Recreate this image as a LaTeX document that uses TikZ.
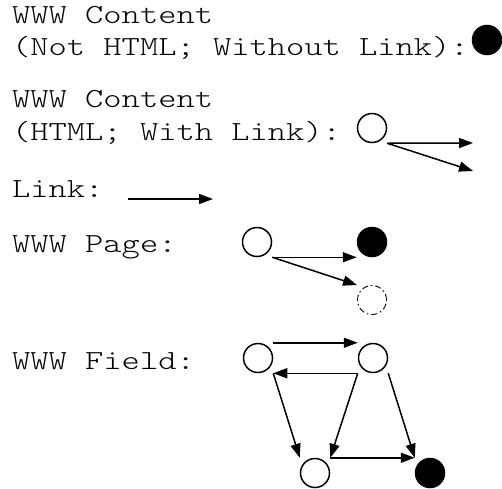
\documentclass[tikz,border=0pt]{standalone}
\usepackage{fontspec}
\newfontfamily\courfont[FakeStretch=1.26]{Latin Modern Mono Light}
\usetikzlibrary{arrows.meta}
\begin{document}
\begin{tikzpicture}[x=1pt,y=1pt,
  lbl/.style={anchor=base west,inner sep=0pt,font=\courfont\fontsize{27.6}{33}\selectfont},
  opencirc/.style={circle,draw,line width=1.5pt,minimum size=29pt,inner sep=0pt},
  fullcirc/.style={circle,draw,fill=black,line width=1.5pt,minimum size=29pt,inner sep=0pt},
  dashcirc/.style={circle,draw,line width=0.9pt,dash pattern=on 6pt off 3pt on 1.5pt off 3pt,minimum size=29pt,inner sep=0pt},
  link/.style={line width=1.5pt,-{Triangle[length=14pt,width=10pt]}}]
\useasboundingbox (0,0) rectangle (502,-488);
% labels
\node[lbl] (t1) at (12,-23) {WWW Content};
\node[lbl] (t2) at (12,-55) {(Not HTML; Without Link):};
\node[lbl] (t3) at (12,-107) {WWW Content};
\node[lbl] (t4) at (12,-140) {(HTML; With Link):};
\node[lbl] (t5) at (12,-197) {Link:};
\node[lbl] (t6) at (12,-252) {WWW Page:};
\node[lbl] (t7) at (12,-369) {WWW Field:};
% content without link
\node[fullcirc] (nc) at (487,-40) {};
% content with link
\node[opencirc] (wc) at (372,-128) {};
\coordinate (wc1) at (473,-143);
\coordinate (wc2) at (473,-171);
\draw[link] (wc.south -| wc.east) -- (wc1);
\draw[link] (wc.south -| wc.east) -- (wc2);
% link
\coordinate (la) at (128,-199);
\coordinate (lb) at (213,-199);
\draw[link] (la) -- (lb);
% page
\node[opencirc] (p0) at (257,-242) {};
\node[fullcirc] (p1) at (372,-242) {};
\node[dashcirc] (p2) at (372,-300) {};
\draw[link] (p0.south -| p0.east) -- (p1.south -| p1.west);
\draw[link] (p0.south -| p0.east) -- (p2.north -| p2.west);
% field
\node[opencirc] (fa) at (258,-358) {};
\node[opencirc] (fb) at (373,-358) {};
\node[opencirc] (fc) at (315,-473) {};
\node[fullcirc] (fd) at (430,-473) {};
\draw[link] (fa.north -| fa.east) -- (fb.north -| fb.west);
\draw[link] (fb.south -| fb.west) -- (fa.south -| fa.east);
\draw[link] (fa.south -| fa.east) -- (fc.north -| fc.west);
\draw[link] (fb.south -| fb.west) -- (fc.north -| fc.east);
\draw[link] (fb.south -| fb.east) -- (fd.north -| fd.west);
\draw[link] (fc.north -| fc.east) -- (fd.north -| fd.west);
\end{tikzpicture}
\end{document}
